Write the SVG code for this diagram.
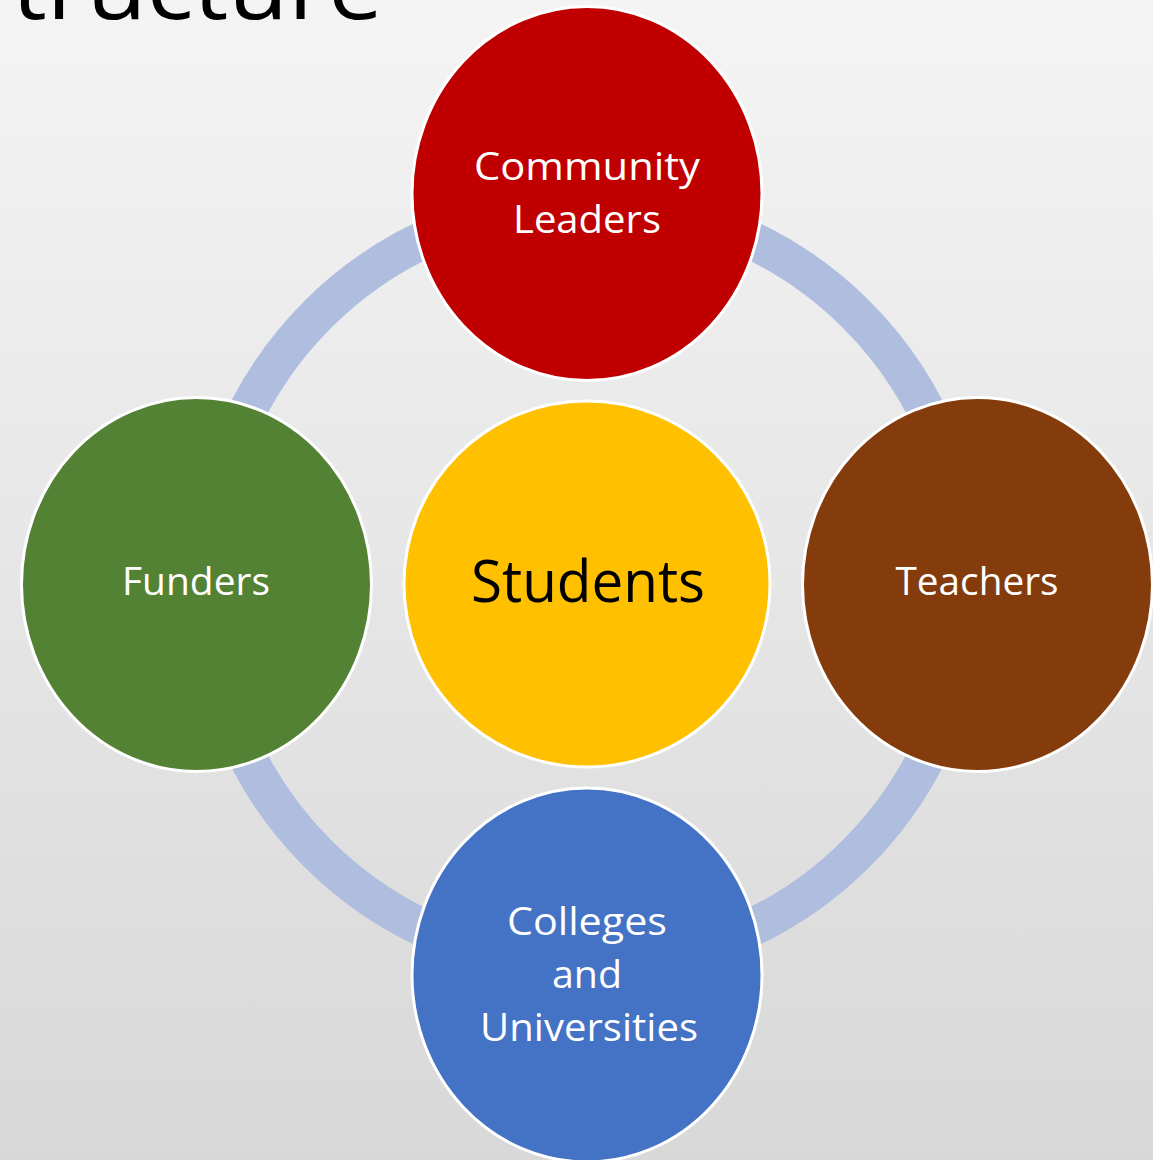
<svg xmlns="http://www.w3.org/2000/svg" width="1153" height="1160" viewBox="0 0 1153 1160">
  <defs>
    <linearGradient id="bg" x1="0" y1="0" x2="0" y2="1">
      <stop offset="0" stop-color="#f4f4f4"/>
      <stop offset="1" stop-color="#d8d8d8"/>
    </linearGradient>
    <style>
      .node { stroke: #ffffff; stroke-width: 3; }
      .lbl { font-family: "Open Sans", "Noto Sans", "Liberation Sans", sans-serif; fill: #ffffff; text-anchor: middle; font-size: 39px; }
      .ring { fill: none; stroke: #afbddf; stroke-width: 38; }
    </style>
  </defs>
  <rect x="0" y="0" width="1153" height="1160" fill="url(#bg)"/>
  <text x="12" y="19" font-family="'Open Sans', Lato, sans-serif" font-weight="400" font-size="90" fill="#000000" textLength="371" lengthAdjust="spacingAndGlyphs">tructure</text>
  <g id="connectors">
    <circle class="ring" cx="587" cy="584" r="381"/>
  </g>
  <g id="community-leaders">
    <ellipse class="node" cx="587" cy="193.5" rx="175" ry="187" fill="#c00000"/>
    <text class="lbl" x="587" y="180" textLength="226" lengthAdjust="spacingAndGlyphs">Community</text>
    <text class="lbl" x="587" y="233" textLength="148" lengthAdjust="spacingAndGlyphs">Leaders</text>
  </g>
  <g id="funders">
    <ellipse class="node" cx="196.5" cy="584.5" rx="175" ry="187" fill="#548235"/>
    <text class="lbl" x="196" y="595" textLength="148" lengthAdjust="spacingAndGlyphs">Funders</text>
  </g>
  <g id="students">
    <circle class="node" cx="587" cy="584" r="183" fill="#ffc000"/>
    <text class="lbl" x="588" y="602" style="fill:#000000;font-size:59px" textLength="234" lengthAdjust="spacingAndGlyphs">Students</text>
  </g>
  <g id="teachers">
    <ellipse class="node" cx="977.5" cy="584.5" rx="175" ry="187" fill="#843c0c"/>
    <text class="lbl" x="977" y="595" textLength="163" lengthAdjust="spacingAndGlyphs">Teachers</text>
  </g>
  <g id="colleges-and-universities">
    <ellipse class="node" cx="587" cy="975" rx="175" ry="187" fill="#4472c4"/>
    <text class="lbl" x="587" y="935" textLength="160" lengthAdjust="spacingAndGlyphs">Colleges</text>
    <text class="lbl" x="587" y="988" textLength="70" lengthAdjust="spacingAndGlyphs">and</text>
    <text class="lbl" x="589" y="1041" textLength="218" lengthAdjust="spacingAndGlyphs">Universities</text>
  </g>
</svg>
